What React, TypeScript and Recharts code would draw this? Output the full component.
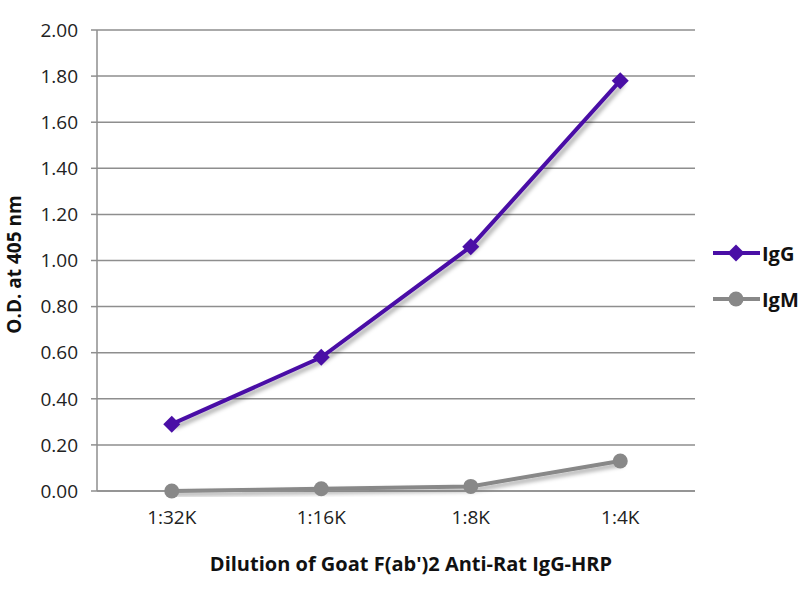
import { LineChart, Line, XAxis, YAxis, CartesianGrid } from 'recharts';

const categories = ['1:32K', '1:16K', '1:8K', '1:4K'];
const igg = [0.29, 0.58, 1.06, 1.78];
const igm = [0.0, 0.01, 0.02, 0.13];
const yTicks = [0, 0.2, 0.4, 0.6, 0.8, 1.0, 1.2, 1.4, 1.6, 1.8, 2.0];

const IGG_COLOR = '#4a0fa6';
const IGM_COLOR = '#888888';
const GRID = '#8e8e8e';
const FONT = '"Open Sans", "Liberation Sans", sans-serif';

const data = categories.map((name, i) => ({ name, pos: i + 0.5, igg: igg[i], igm: igm[i] }));

const Diamond = (props: any) => {
  const { cx, cy } = props;
  if (cx == null || cy == null) return null;
  return <rect x={cx - 6} y={cy - 6} width={12} height={12} fill={IGG_COLOR} transform={`rotate(45 ${cx} ${cy})`} />;
};

const Circle = (props: any) => {
  const { cx, cy } = props;
  if (cx == null || cy == null) return null;
  return <circle cx={cx} cy={cy} r={7.5} fill={IGM_COLOR} />;
};

const LegendBox = () => (
  <svg width={90} height={80} style={{ position: 'absolute', left: 710, top: 240 }}>
    <line x1={3} y1={13} x2={50} y2={13} stroke={IGG_COLOR} strokeWidth={4} />
    <rect x={20} y={7} width={12} height={12} fill={IGG_COLOR} transform="rotate(45 26 13)" />
    <text x={52} y={13} dominantBaseline="central" fontFamily={FONT} fontWeight="bold" fontSize={20} fill="#111">IgG</text>
    <line x1={3} y1={59} x2={50} y2={59} stroke={IGM_COLOR} strokeWidth={4} />
    <circle cx={26} cy={59} r={7.5} fill={IGM_COLOR} />
    <text x={52} y={59} dominantBaseline="central" fontFamily={FONT} fontWeight="bold" fontSize={20} fill="#111">IgM</text>
  </svg>
);

const App = () => {
  return (
    <div style={{ position: 'absolute', left: 0, top: 0, width: 800, height: 600, background: '#fff' }}>
      <LineChart width={800} height={600} data={data} margin={{ top: 30, right: 105, left: 0, bottom: 0 }}>
        <defs>
          <filter id="shadow" x="-10%" y="-10%" width="130%" height="130%">
            <feDropShadow dx={3} dy={3} stdDeviation={2} floodColor="#000" floodOpacity={0.35} />
          </filter>
        </defs>
        <CartesianGrid vertical={false} stroke={GRID} strokeWidth={1.5} />
        <XAxis
          xAxisId="bounds"
          type="number"
          domain={[0, 4]}
          ticks={[1, 2, 3]}
          tick={false}
          axisLine={false}
          tickSize={5}
          tickLine={{ stroke: GRID, strokeWidth: 1.5 }}
          height={0}
        />
        <XAxis
          dataKey="pos"
          type="number"
          domain={[0, 4]}
          ticks={data.map(d => d.pos)}
          tickFormatter={(v: number) => categories[Math.floor(v)]}
          axisLine={{ stroke: GRID, strokeWidth: 1.5 }}
          tickLine={false}
          tickSize={0}
          tickMargin={20}
          height={109}
          tick={{ fontFamily: FONT, fontSize: 19, fill: '#222' }}
          label={({ viewBox }: any) => {
            const cx = viewBox.x + viewBox.width / 2 + 15;
            const cy = viewBox.y + 72;
            return (
              <text x={cx} y={cy} textAnchor="middle" dominantBaseline="central" fontFamily={FONT} fontWeight="bold" fontSize={20} fill="#111">
                Dilution of Goat F(ab')2 Anti-Rat IgG-HRP
              </text>
            );
          }}
        />
        <YAxis
          domain={[0, 2]}
          ticks={yTicks}
          interval={0}
          width={97}
          tickFormatter={(v: number) => v.toFixed(2)}
          axisLine={{ stroke: GRID, strokeWidth: 1.5 }}
          tickLine={{ stroke: GRID, strokeWidth: 1.5 }}
          tickSize={6}
          tickMargin={13}
          tick={{ fontFamily: FONT, fontSize: 19, fill: '#222' }}
          label={({ viewBox }: any) => {
            const cx = viewBox.x + 14;
            const cy = viewBox.y + viewBox.height / 2 + 4;
            return (
              <text x={cx} y={cy} transform={`rotate(-90 ${cx} ${cy})`} textAnchor="middle" dominantBaseline="central" fontFamily={FONT} fontWeight="bold" fontSize={19} fill="#111">
                O.D. at 405 nm
              </text>
            );
          }}
        />
        <Line
          dataKey="igm"
          name="IgM"
          stroke={IGM_COLOR}
          strokeWidth={4}
          dot={<Circle />}
          activeDot={false}
          filter="url(#shadow)"
          isAnimationActive={false}
        />
        <Line
          dataKey="igg"
          name="IgG"
          stroke={IGG_COLOR}
          strokeWidth={4}
          dot={<Diamond />}
          activeDot={false}
          filter="url(#shadow)"
          isAnimationActive={false}
        />
      </LineChart>
      <LegendBox />
    </div>
  );
};

export default App;
